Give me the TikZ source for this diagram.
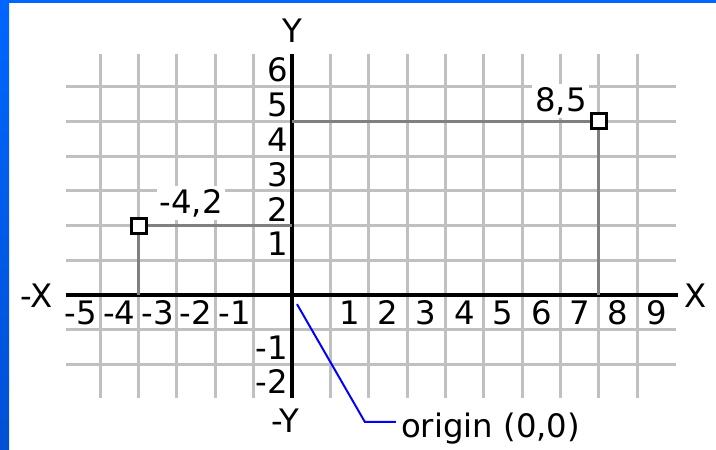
\documentclass[tikz,border=0pt]{standalone}
\usepackage{fontspec}
\setmainfont{DejaVu Sans}
\definecolor{gridgray}{RGB}{192,192,192}
\definecolor{guidegray}{RGB}{128,128,128}
\definecolor{frametop}{RGB}{0,102,255}
\definecolor{framebot}{RGB}{0,80,214}
\definecolor{pointblue}{RGB}{0,0,255}
\tikzset{
  gridline/.style={gridgray,line width=2.1pt},
  axisline/.style={black,line width=2.8pt},
  guide/.style={guidegray,line width=2.1pt},
  marker/.style={draw=black,fill=white,line width=2.1pt,minimum size=0.375cm,inner sep=0pt},
  tick/.style={inner sep=0pt},
  ptlabel/.style={fill=white,inner sep=2pt,anchor=base},
  pointer/.style={pointblue,line width=1.4pt},
}
\begin{document}
\begin{tikzpicture}[x=0.959cm,y=0.869cm,font=\fontsize{23}{26}\selectfont]
	\useasboundingbox (-7.612,-4.432) rectangle (11.053,8.489);
	% blue frame
	\fill[frametop] (-7.612,8.403) rectangle (11.053,8.489);
	\shade[top color=frametop,bottom color=framebot] (-7.612,-4.432) rectangle (-7.377,8.489);
	% grid
	\foreach \y in {-2,...,6}
		\draw[gridline] (-5.9,\y) -- (10,\y);
	\foreach \x in {-5,...,9}
		\draw[gridline] (\x,-2.96) -- (\x,6.94);
	% tick labels
	\foreach \n in {1,...,9}
		\node[tick] (xt\n) at (\n+0.5,-0.5) {\n};
	\foreach \n in {1,...,5}
		\node[tick] (xm\n) at (-\n-0.5,-0.5) {-\n};
	\foreach \n in {1,...,6}
		\node[tick,anchor=east] (yt\n) at (-0.1,\n+0.47) {\n};
	\foreach \n in {1,2}
		\node[tick,anchor=east] (ym\n) at (-0.1,-\n-0.5) {-\n};
	% axes
	\coordinate (o) at (0,0);
	\coordinate (xneg) at (-5.89,0);
	\coordinate (xpos) at (10.06,0);
	\coordinate (yneg) at (0,-2.96);
	\coordinate (ypos) at (0,6.94);
	\draw[axisline] (xneg) -- (xpos);
	\draw[axisline] (yneg) -- (ypos);
	\node (ylab) at (0,7.6) {Y};
	\node (nylab) at (-0.18,-3.61) {-Y};
	\node (nxlab) at (-6.65,-0.03) {-X};
	\node (xlab) at (10.53,-0.03) {X};
	% points
	\node[ptlabel] (lab42) at (-2.63,2.36) {-4,2};
	\node[ptlabel] (lab85) at (7.01,5.295) {8,5};
	\node[marker] (m42) at (-4,2) {};
	\node[marker] (m85) at (8,5) {};
	\draw[guide] (m42) -- (m42 -| o);
	\draw[guide] (m42) -- (m42 |- o);
	\draw[guide] (m85) -- (m85 -| o);
	\draw[guide] (m85) -- (m85 |- o);
	% origin pointer
	\coordinate (orgtip) at (0.13,-0.26);
	\coordinate (orgbend) at (1.90,-3.65);
	\node[anchor=base west,inner sep=3.5pt] (orgtext) at (2.71,-4.09) {origin (0,0)};
	\draw[pointer] (orgtip) -- (orgbend) -- (orgbend -| orgtext.west);
\end{tikzpicture}
\end{document}
